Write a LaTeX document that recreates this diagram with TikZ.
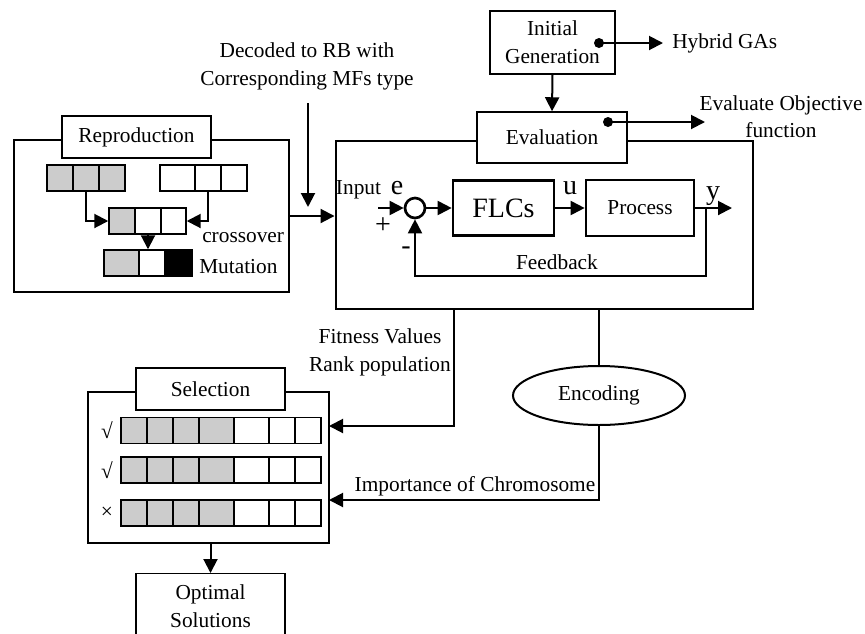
\documentclass[tikz,border=0pt]{standalone}
\usepackage{fontspec}
\setmainfont{Liberation Serif}
\usetikzlibrary{arrows.meta,shapes.geometric}
\definecolor{bitgray}{RGB}{204,204,204}
\tikzset{
  cadre/.style={draw, line width=2.2pt, inner sep=0pt},
  boite/.style={draw, fill=white, line width=1.1pt, align=center, inner sep=0pt},
  bloc/.style={draw, line width=2pt, inner sep=0pt},
  cell/.style={draw, line width=1.1pt, minimum height=19.5pt, inner sep=0pt},
  dot/.style={circle, fill, inner sep=0pt, minimum size=7.5pt},
  fl/.style={line width=1.5pt, -{Triangle[length=10.5pt,width=10.5pt]}},
  trait/.style={line width=1.5pt},
  txt/.style={align=center, inner sep=0pt},
  big/.style={font=\fontsize{21}{24}\selectfont}
}
\begin{document}
\begin{tikzpicture}[x=0.75pt, y=-0.75pt, font=\fontsize{16}{21}\selectfont]
\useasboundingbox (0,0) rectangle (865,633);
\clip (0,0) rectangle (865,633);

% Reproduction
\node[cadre, minimum width=206.25pt, minimum height=114pt] (repro) at (151.5,216) {};
\node[boite, minimum width=111.75pt, minimum height=31.5pt] (reprolab) at (136.5,137) {Reproduction};

\foreach \x/\w/\col [count=\i] in {47/26/bitgray, 73/26/bitgray, 99/26/bitgray}
  \node[cell, fill=\col, minimum width=\w*0.75pt] (pa\i) at (\x+\w/2,178) {};
\foreach \x/\w/\col [count=\i] in {160/35/white, 195/26/white, 221/26/white}
  \node[cell, fill=\col, minimum width=\w*0.75pt] (pb\i) at (\x+\w/2,178) {};
\foreach \x/\w/\col [count=\i] in {109/26/bitgray, 135/26/white, 161/25/white}
  \node[cell, fill=\col, minimum width=\w*0.75pt] (pc\i) at (\x+\w/2,221) {};
\foreach \x/\w/\col [count=\i] in {104/35/bitgray, 139/26/white, 165/27/black}
  \node[cell, fill=\col, minimum width=\w*0.75pt] (pd\i) at (\x+\w/2,263) {};

\draw[fl] (pa2.south) |- (pc1.west);
\draw[fl] (pb2.south) |- (pc3.east);
\draw[fl] (pc2.south) -- (pc2.south |- pd1.north);

\node[txt, anchor=west] (xlab) at (202,238) {crossover};
\node[txt, anchor=west] (mlab) at (199,267) {Mutation};

% Boucle de commande
\node[cadre, minimum width=312.75pt, minimum height=126pt] (main) at (544.5,225) {};
\node[boite, minimum width=112.5pt, minimum height=38.25pt] (eval) at (552,137.5) {Evaluation};
\node[boite, minimum width=93.75pt, minimum height=47.25pt] (init) at (552.5,42.5) {Initial\\Generation};
\draw[fl] (init.south) -- (eval.north);

\node[dot] (initdot) at (599,43) {};
\node[anchor=west, inner sep=6.75pt] (hybrid) at (663,43) {Hybrid GAs};
\draw[fl] (initdot.center) -- (hybrid.west);

\node[dot] (evaldot) at (608,122) {};
\coordinate (objend) at (705,122);
\draw[fl] (evaldot.center) -- (objend);
\node[txt, font=\fontsize{16}{20}\selectfont] (objective) at (781,116.5) {Evaluate Objective\\function};

\draw[fl] (repro.east) -- (repro.east -| main.west);

\node[txt] (decoded) at (307,66) {Decoded to RB with\\Corresponding MFs type};
\coordinate (decend) at (308,207);
\draw[fl, shorten <=10pt] (decoded.south -| decend) -- (decend);

\node[bloc, circle, minimum size=15pt] (sum) at (415,208) {};
\node[bloc, big, minimum width=75.75pt, minimum height=41.25pt] (flc) at (503.5,208) {FLCs};
\node[bloc, minimum width=81pt, minimum height=42pt] (proc) at (640,208) {Process};

\coordinate (inpt) at (378,208);
\coordinate (yout) at (732,208);
\coordinate (fbtap) at (706,208);
\draw[fl] (inpt) -- (sum.west);
\draw[fl] (sum) -- (flc);
\draw[fl] (flc) -- (proc);
\draw[fl] (proc) -- (yout);
\draw[fl] (fbtap) -- ++(0,68) -| (sum.south);

\node[txt] (inlab) at (358.5,190) {Input};
\node[txt, big] (elab) at (397,188) {e};
\node[txt, big] (ulab) at (570,188) {u};
\node[txt, big] (ylab) at (713,196) {y};
\node[txt, big] (plus) at (383,226) {+};
\node[txt, big] (minus) at (406,251) {-};
\node[txt] (fblab) at (557,262) {Feedback};

% Selection
\node[cadre, minimum width=180.75pt, minimum height=113.25pt] (sel) at (208.5,467.5) {};
\node[boite, minimum width=111.75pt, minimum height=31.5pt] (sellab) at (210.5,389) {Selection};

\foreach \y/\m [count=\j] in {430.5/√, 470/√, 513/×} {
  \node[txt] (chk\j) at (107,\y) {\m};
  \foreach \x/\w/\col [count=\i] in {121/26/bitgray, 147/26/bitgray, 173/26/bitgray, 199/35/bitgray, 234/35/white, 269/26/white, 295/26/white}
    \node[cell, fill=\col, minimum width=\w*0.75pt] (s\j-\i) at (\x+\w/2,\y) {};
}

\coordinate (fittap) at (454,309);
\coordinate (fitin) at (329,426);
\draw[fl] (fittap) |- (fitin);
\node[txt] (fitlab) at (380,352) {Fitness Values\\Rank population};

\node[draw, ellipse, line width=1.5pt, minimum width=129pt, minimum height=44.25pt] (enc) at (599,395.5) {Encoding};
\coordinate (enctap) at (599,309);
\coordinate (impin) at (329,500);
\draw[trait] (enctap) -- (enc.north);
\draw[fl] (enc.south) |- (impin);
\node[txt] (implab) at (475,486) {Importance of Chromosome};

% Solutions
\node[boite, minimum width=111.75pt, minimum height=48pt, anchor=north] (opt) at (210.5,573) {Optimal\\Solutions};
\draw[fl] (opt.north |- sel.south) -- (opt.north);

\end{tikzpicture}
\end{document}
